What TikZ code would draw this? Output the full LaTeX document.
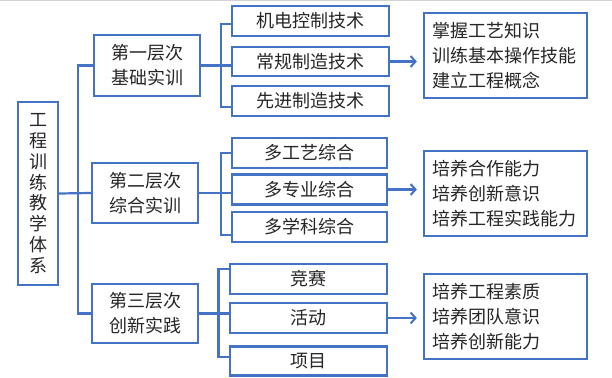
\documentclass[tikz,border=0pt]{standalone}
\usepackage{fontspec}
\setmainfont{Noto Sans CJK SC}
\usetikzlibrary{arrows.meta,calc}
\definecolor{bl}{HTML}{4472C4}
\definecolor{tx}{HTML}{262626}
\begin{document}
\begin{tikzpicture}[x=1pt,y=-1pt,
  box/.style={draw=bl, line width=2.2pt, inner sep=0pt, text=tx,
    font=\fontsize{18}{25}\selectfont, align=center},
  subbox/.style={box, minimum width=156pt, minimum height=30pt},
  lvbox/.style={box, minimum width=106pt, minimum height=60pt},
  goalbox/.style={box, minimum width=163pt, minimum height=85pt,
    text width=147pt, align=left},
  ln/.style={draw=bl, line width=2.2pt},
  arr/.style={ln, -{Straight Barb[length=5pt,width=11pt,line width=2pt]}}]
\useasboundingbox (0,0) rectangle (612,377);
\fill[white] (0,0) rectangle (612,377);
\draw[gray!35, line width=1.5pt] (0,0.75) -- (612,0.75);

% root
\node[box, minimum width=40pt, minimum height=183pt,
  font=\fontsize{18}{20.8}\selectfont] (root) at (38,193.5)
  {工\\程\\训\\练\\教\\学\\体\\系};

% levels
\node[lvbox, minimum height=61pt] (L1) at (147,65.5) {第一层次\\基础实训};
\node[lvbox] (L2) at (145,193) {第二层次\\综合实训};
\node[lvbox, minimum height=59pt] (L3) at (145,313.5) {第三层次\\创新实践};

% subs
\node[subbox, minimum width=157pt] (s1) at (310.5,21) {机电控制技术};
\node[subbox, minimum width=157pt, minimum height=29pt] (s2) at (310.5,61.5) {常规制造技术};
\node[subbox, minimum width=157pt] (s3) at (310.5,101) {先进制造技术};
\node[subbox, minimum width=155pt] (s4) at (309.5,153) {多工艺综合};
\node[subbox, minimum width=155pt] (s5) at (309.5,189.5) {多专业综合};
\node[subbox, minimum width=155pt] (s6) at (309.5,227) {多学科综合};
\node[subbox, minimum width=157pt] (s7) at (308.5,279) {竞赛};
\node[subbox, minimum width=157pt] (s8) at (308.5,318) {活动};
\node[subbox, minimum width=157pt, minimum height=29pt] (s9) at (308.5,361) {项目};

% goals
\node[goalbox] (t1) at (505.5,55.5) {掌握工艺知识\\训练基本操作技能\\建立工程概念};
\node[goalbox] (t2) at (505.5,193.5) {培养合作能力\\培养创新意识\\培养工程实践能力};
\node[goalbox] (t3) at (505.5,316.5) {培养工程素质\\培养团队意识\\培养创新能力};

% trunk
\coordinate (tt) at (78,65.5);
\coordinate (tb) at (78,313.5);
\draw[ln] (L1.west) -- (tt) -- (tb) -- (L3.west);
\draw[ln] (root.east) -- (L2.west);

% brackets
\coordinate (b1t) at (220.7,24);
\coordinate (b1b) at (220.7,107);
\draw[ln] (L1.east) -- (L1.east -| s2.west);
\draw[ln] (b1t -| s1.west) -- (b1t) -- (b1b) -- (b1b -| s3.west);

\coordinate (b2t) at (220.7,153);
\coordinate (b2b) at (220.7,235);
\draw[ln] (L2.east) -- (L2.east -| s5.west);
\draw[ln] (b2t -| s4.west) -- (b2t) -- (b2b) -- (b2b -| s6.west);

\coordinate (b3t) at (218.5,269);
\coordinate (b3b) at (218.5,357);
\draw[ln] (L3.east) -- (L3.east -| s8.west);
\draw[ln] (b3t -| s7.west) -- (b3t) -- (b3b) -- (b3b -| s9.west);

% arrows
\draw[arr] (s2.east) -- ($(s2.east -| t1.west)+(-6,0)$);
\draw[arr] (s5.east) -- ($(s5.east -| t2.west)+(-6,0)$);
\draw[arr] (s8.east) -- ($(s8.east -| t3.west)+(-6,0)$);
\end{tikzpicture}
\end{document}
